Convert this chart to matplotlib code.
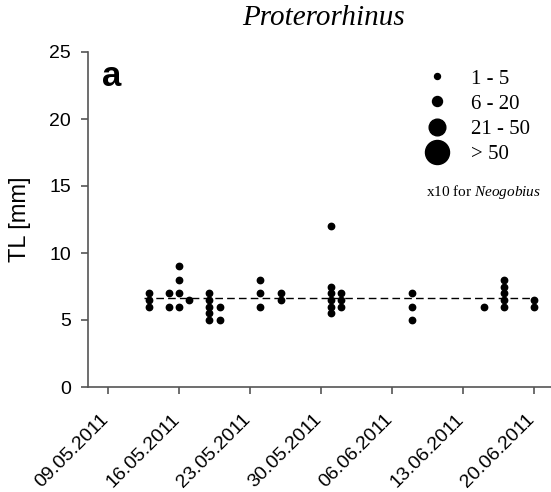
import matplotlib
matplotlib.use("Agg")
import matplotlib.pyplot as plt
import matplotlib.dates as mdates
from matplotlib.lines import Line2D
from matplotlib.transforms import ScaledTranslation
import datetime as dt
import numpy as np

# ---- data ----
sample_dates = ["13.05.2011", "15.05.2011", "16.05.2011", "17.05.2011", "19.05.2011",
                "20.05.2011", "24.05.2011", "26.05.2011", "31.05.2011", "01.06.2011",
                "08.06.2011", "15.06.2011", "17.06.2011", "20.06.2011"]
tl_values = [[6, 6.5, 7], [6, 7], [6, 7, 8, 9], [6.5], [5, 5.5, 6, 6.5, 7],
             [5, 6], [6, 7, 8], [6.5, 7], [5.5, 6, 6.5, 7, 7.5, 12], [6, 6.5, 7],
             [5, 6, 7], [6], [6, 6.5, 7, 7.5, 8], [6, 6.5]]
tick_dates = ["09.05.2011", "16.05.2011", "23.05.2011", "30.05.2011",
              "06.06.2011", "13.06.2011", "20.06.2011"]
yticks = [0, 5, 10, 15, 20, 25]
legend_labels = ["1 - 5", "6 - 20", "21 - 50", "> 50"]
legend_sizes = [4.3, 7.2, 12.0, 17.3]

def parse(s):
    return dt.datetime.strptime(s, "%d.%m.%Y")

xs, ys = [], []
for d, vals in zip(sample_dates, tl_values):
    for v in vals:
        xs.append(parse(d))
        ys.append(v)
mean_tl = float(np.mean(ys))

plt.rcParams['mathtext.fontset'] = 'custom'
plt.rcParams['mathtext.it'] = 'Liberation Serif:italic'
plt.rcParams['mathtext.rm'] = 'Liberation Serif'

fig = plt.figure(figsize=(5.51, 4.92), dpi=100)
W, H = 551, 492
left, right, bottom, top = 87.7, 551, 387, 52
ax = fig.add_axes([left / W, 1 - bottom / H, (right - left) / W, (bottom - top) / H])

ax.plot(xs, ys, 'o', color='black', markersize=4.6, ls='none', zorder=3)
ax.plot([parse(sample_dates[0]) - dt.timedelta(days=0.5), parse(sample_dates[-1])],
        [mean_tl, mean_tl], color='black', lw=1.0, ls=(0, (5.5, 3)), zorder=2)

ax.set_xlim(parse("07.05.2011"), parse("07.05.2011") + dt.timedelta(days=45.65))
ax.set_ylim(0, 25)
ax.set_xticks([parse(t) for t in tick_dates])
ax.set_xticklabels(tick_dates)
ax.set_yticks(yticks)
ax.set_yticklabels([str(v) for v in yticks])

for s in ['top', 'right']:
    ax.spines[s].set_visible(False)
for s in ['left', 'bottom']:
    ax.spines[s].set_color('#555555')
    ax.spines[s].set_linewidth(1.2)

ax.tick_params(axis='both', direction='out', length=5, width=1.2, color='#555555',
               labelsize=14)
ax.tick_params(axis='y', pad=7)
ax.tick_params(axis='x', pad=12)
for lab in ax.get_yticklabels():
    lab.set_fontfamily('Liberation Sans')
offset = ScaledTranslation(-8 / 100, 0, fig.dpi_scale_trans)
for lab in ax.get_xticklabels():
    lab.set_fontfamily('Liberation Sans')
    lab.set_rotation(45)
    lab.set_ha('right')
    lab.set_va('top')
    lab.set_rotation_mode('anchor')
    lab.set_transform(lab.get_transform() + offset)

# title, panel letter, y label
fig.text(324 / W, 1 - 18 / H, "Proterorhinus", fontsize=21, fontstyle='italic',
         family='Liberation Serif', ha='center', va='center')
fig.text(112 / W, 1 - 76 / H, "a", fontsize=25, fontweight='bold',
         family='Liberation Sans', ha='center', va='center')
fig.text(20 / W, 1 - 219 / H, "TL [mm]", fontsize=17, family='Liberation Sans',
         rotation=90, ha='center', va='center')

# size legend
handles = [Line2D([], [], marker='o', ls='none', color='black', markersize=ms)
           for ms in legend_sizes]
leg = ax.legend(handles, legend_labels, loc='upper left',
                bbox_to_anchor=(427 / W, 1 - 69 / H), bbox_transform=fig.transFigure,
                frameon=False, borderpad=0, borderaxespad=0, handlelength=1.0,
                handletextpad=1.1, labelspacing=0.27,
                prop={'family': 'Liberation Serif', 'size': 15})
fig.text(426 / W, 1 - 192 / H, r"x10 for $\it{Neogobius}$", fontsize=11,
         family='Liberation Serif', ha='left', va='center')

fig.savefig("out.png", dpi=100)
